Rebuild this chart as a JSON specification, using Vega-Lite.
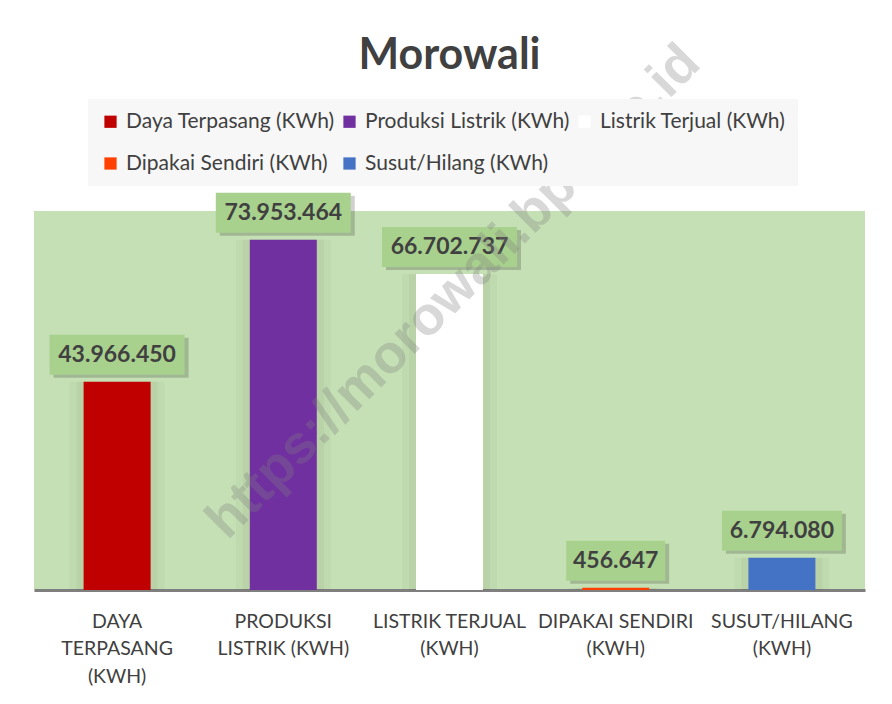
{
  "$schema": "https://vega.github.io/schema/vega-lite/v6.json",
  "width": 831,
  "height": 379,
  "autosize": {"type": "none"},
  "padding": {"left": 34, "top": 211, "right": 27, "bottom": 114},
  "background": "white",
  "config": {
    "view": {"fill": "#c5e0b4", "stroke": null},
    "font": "Lato",
    "locale": {"number": {"decimal": ",", "thousands": ".", "grouping": [3], "currency": ["", ""]}}
  },
  "title": {
    "text": "Morowali",
    "fontSize": 43,
    "fontWeight": "bold",
    "color": "#404040",
    "font": "Lato",
    "anchor": "middle",
    "offset": -43
  },
  "data": {
    "values": [
      {"kategori": "DAYA TERPASANG (KWH)", "seri": "Daya Terpasang (KWh)", "nilai": 43966450},
      {"kategori": "PRODUKSI LISTRIK (KWH)", "seri": "Produksi Listrik (KWh)", "nilai": 73953464},
      {"kategori": "LISTRIK TERJUAL (KWH)", "seri": "Listrik Terjual (KWh)", "nilai": 66702737},
      {"kategori": "DIPAKAI SENDIRI (KWH)", "seri": "Dipakai Sendiri (KWh)", "nilai": 456647},
      {"kategori": "SUSUT/HILANG (KWH)", "seri": "Susut/Hilang (KWh)", "nilai": 6794080}
    ]
  },
  "encoding": {
    "x": {
      "field": "kategori",
      "type": "nominal",
      "sort": null,
      "scale": {"paddingInner": 0, "paddingOuter": 0},
      "axis": {
        "title": null,
        "labelAngle": 0,
        "domainColor": "#7f7f7f",
        "domainWidth": 3,
        "ticks": false,
        "labelFontSize": 19.5,
        "labelColor": "#404040",
        "labelFont": "Lato",
        "labelPadding": 22,
        "labelLineHeight": 27.5,
        "labelBaseline": "top",
        "labelLimit": 300,
        "labelExpr": "datum.value == 'DAYA TERPASANG (KWH)' ? ['DAYA', 'TERPASANG', '(KWH)'] : datum.value == 'PRODUKSI LISTRIK (KWH)' ? ['PRODUKSI', 'LISTRIK (KWH)'] : [replace(datum.value, ' (KWH)', ''), '(KWH)']"
      }
    }
  },
  "layer": [
    {
      "mark": {"type": "bar", "size": 95, "color": "#000000", "opacity": 0.025},
      "encoding": {
        "y": {"field": "nilai", "type": "quantitative", "scale": {"domain": [0, 80000000]}, "axis": null}
      }
    },
    {
      "mark": {"type": "bar", "size": 81, "color": "#000000", "opacity": 0.035},
      "encoding": {
        "y": {"field": "nilai", "type": "quantitative"}
      }
    },
    {
      "mark": {"type": "bar", "size": 67},
      "encoding": {
        "y": {"field": "nilai", "type": "quantitative"},
        "color": {
          "field": "seri",
          "type": "nominal",
          "scale": {
            "domain": ["Daya Terpasang (KWh)", "Produksi Listrik (KWh)", "Listrik Terjual (KWh)", "Dipakai Sendiri (KWh)", "Susut/Hilang (KWh)"],
            "range": ["#c00000", "#7030a0", "#ffffff", "#ff4000", "#4472c4"]
          },
          "legend": {
            "orient": "none",
            "legendX": 54,
            "legendY": -112,
            "direction": "horizontal",
            "columns": 3,
            "title": null,
            "symbolType": "square",
            "symbolSize": 150,
            "symbolStrokeWidth": 0,
            "symbolOpacity": 1,
            "labelFontSize": 21,
            "labelFont": "Lato",
            "labelColor": "#404040",
            "labelLimit": 400,
            "labelOffset": 5,
            "fillColor": "#f7f7f7",
            "padding": 12,
            "rowPadding": 20,
            "columnPadding": 4
          }
        }
      }
    },
    {
      "mark": {"type": "bar", "color": "#000000", "opacity": 0.18, "yOffset": -4, "y2Offset": -44, "xOffset": 4},
      "encoding": {
        "y": {"field": "nilai", "type": "quantitative"},
        "y2": {"field": "nilai"},
        "size": {"condition": [{"test": "datum.nilai < 1000000", "value": 99}, {"test": "datum.nilai < 10000000", "value": 120}], "value": 135}
      }
    },
    {
      "mark": {"type": "bar", "color": "#a9d18e", "yOffset": -7, "y2Offset": -47},
      "encoding": {
        "y": {"field": "nilai", "type": "quantitative"},
        "y2": {"field": "nilai"},
        "size": {"condition": [{"test": "datum.nilai < 1000000", "value": 99}, {"test": "datum.nilai < 10000000", "value": 120}], "value": 135}
      }
    },
    {
      "mark": {"type": "text", "fontSize": 23, "fontWeight": "bold", "color": "#404040", "font": "Lato", "baseline": "middle", "yOffset": -27},
      "encoding": {
        "y": {"field": "nilai", "type": "quantitative"},
        "text": {"field": "nilai", "type": "quantitative", "format": ",d"}
      }
    },
    {
      "data": {"values": [{"wm": "https://morowali.bps.go.id", "kategori": "LISTRIK TERJUAL (KWH)", "tinggi": 62000000}]},
      "mark": {"type": "text", "angle": -45, "font": "Liberation Sans", "fontWeight": "bold", "fontSize": 54, "color": "#808080", "opacity": 0.3, "baseline": "middle", "align": "center", "dx": 6},
      "encoding": {
        "y": {"field": "tinggi", "type": "quantitative"},
        "text": {"field": "wm"}
      }
    }
  ]
}
